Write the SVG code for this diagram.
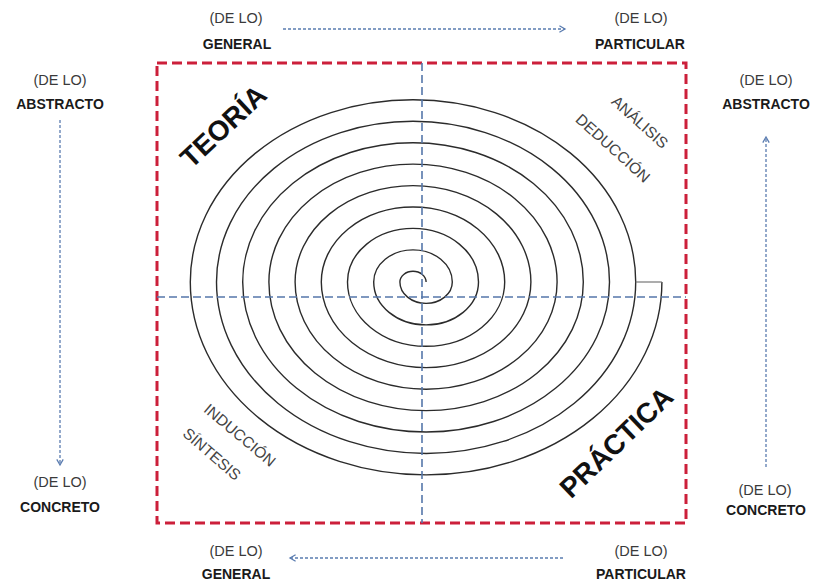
<svg xmlns="http://www.w3.org/2000/svg" width="814" height="582" viewBox="0 0 814 582">
<defs>
<style>
.lbl{font-family:"Liberation Sans",Arial,sans-serif;text-anchor:middle}
.de{font-size:14.5px;fill:#3a3a3a}
.bd{font-size:14px;font-weight:bold;fill:#1a1a1a}
.big{font-family:"Liberation Sans",Arial,sans-serif;font-size:28px;font-weight:bold;fill:#111;text-anchor:middle}
.sm{font-family:"Liberation Sans",Arial,sans-serif;font-size:15.5px;fill:#444;text-anchor:middle}
.axis{stroke:#5577aa;stroke-width:1.6;stroke-dasharray:8 4;fill:none}
.arr{stroke:#5a7cb0;stroke-width:1.3;stroke-dasharray:3 2;fill:none}
</style>
<marker id="chev" viewBox="0 0 10 10" refX="8" refY="5" markerWidth="8" markerHeight="8" markerUnits="userSpaceOnUse" orient="auto">
<path d="M1,1 L8,5 L1,9" fill="none" stroke="#5a7cb0" stroke-width="1.6"/>
</marker>
</defs>
<rect width="814" height="582" fill="#fff"/>

<g id="frame">
<rect x="157" y="63" width="529" height="460" fill="none" stroke="#cc1f3a" stroke-width="3" stroke-dasharray="10 5"/>
</g>

<g id="spiral">
<path d="M426.1,282 A13.1,10.7 0 0 0 399.9,282 A26.2,21.4 0 0 0 452.3,282 A39.3,32.1 0 0 0 373.7,282 A52.4,42.9 0 0 0 478.5,282 A65.5,53.6 0 0 0 347.5,282 A78.6,64.3 0 0 0 504.7,282 A91.7,75 0 0 0 321.3,282 A104.8,85.7 0 0 0 530.9,282 A117.9,96.4 0 0 0 295.1,282 A131,107.2 0 0 0 557.1,282 A144.1,117.9 0 0 0 268.9,282 A157.2,128.6 0 0 0 583.3,282 A170.3,139.3 0 0 0 242.7,282 A183.4,150 0 0 0 609.5,282 A196.5,160.7 0 0 0 216.5,282 A209.6,171.5 0 0 0 635.7,282 A222.7,182.2 0 0 0 190.3,282 A235.8,192.9 0 0 0 661.9,282" fill="none" stroke="#2b2b2b" stroke-width="1.4"/>
<path d="M635.7,282 H661.9" stroke="#777" stroke-width="1.2" fill="none"/>
</g>

<g id="axes">
<line class="axis" x1="422" y1="63" x2="422" y2="523"/>
<line class="axis" x1="157" y1="297" x2="686" y2="297"/>
</g>

<g id="connectors">
<line class="arr" x1="283" y1="29" x2="565" y2="29" marker-end="url(#chev)"/>
<line class="arr" x1="563" y1="558" x2="290" y2="558" marker-end="url(#chev)"/>
<line class="arr" x1="60" y1="120" x2="60" y2="465" marker-end="url(#chev)"/>
<line class="arr" x1="766" y1="467" x2="766" y2="137" marker-end="url(#chev)"/>
</g>

<g id="top-general"><text class="lbl de" x="236" y="23">(DE LO)</text><text class="lbl bd" x="237" y="49">GENERAL</text></g>
<g id="top-particular"><text class="lbl de" x="641" y="23">(DE LO)</text><text class="lbl bd" x="640" y="49">PARTICULAR</text></g>
<g id="bottom-general"><text class="lbl de" x="236" y="556">(DE LO)</text><text class="lbl bd" x="236" y="579">GENERAL</text></g>
<g id="bottom-particular"><text class="lbl de" x="641" y="556">(DE LO)</text><text class="lbl bd" x="641" y="579">PARTICULAR</text></g>
<g id="left-abstracto"><text class="lbl de" x="60" y="85">(DE LO)</text><text class="lbl bd" x="60" y="109">ABSTRACTO</text></g>
<g id="left-concreto"><text class="lbl de" x="60" y="487">(DE LO)</text><text class="lbl bd" x="60" y="512">CONCRETO</text></g>
<g id="right-abstracto"><text class="lbl de" x="766" y="85">(DE LO)</text><text class="lbl bd" x="766" y="109">ABSTRACTO</text></g>
<g id="right-concreto"><text class="lbl de" x="765" y="495">(DE LO)</text><text class="lbl bd" x="766" y="515">CONCRETO</text></g>

<g id="teoria"><text class="big" x="223" y="136" transform="rotate(-43 223 126)">TEORÍA</text></g>
<g id="practica"><text class="big" x="616" y="452" transform="rotate(-44 616 442)">PRÁCTICA</text></g>
<g id="analisis"><text class="sm" x="640" y="127.5" transform="rotate(42 640 122)">ANÁLISIS</text><text class="sm" x="613" y="153.5" transform="rotate(42 613 148)">DEDUCCIÓN</text></g>
<g id="induccion"><text class="sm" x="240" y="440.5" transform="rotate(40 240 435)">INDUCCIÓN</text><text class="sm" x="212" y="459.5" transform="rotate(41 212 454)">SÍNTESIS</text></g>
</svg>
